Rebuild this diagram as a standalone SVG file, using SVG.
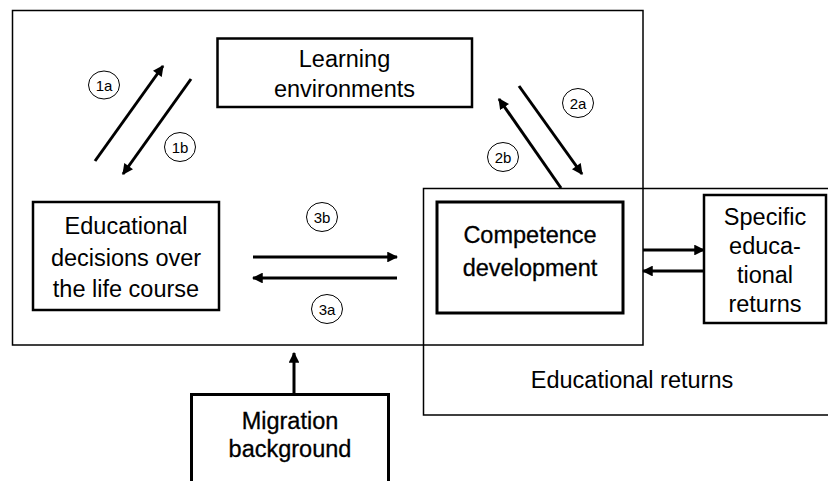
<svg xmlns="http://www.w3.org/2000/svg" width="828" height="481" viewBox="0 0 828 481">
<style>
.t{font-family:"Liberation Sans",Arial,sans-serif;font-size:23.5px;fill:#000;text-anchor:middle}
.b{stroke:#000;stroke-width:0.3}
.c{font-family:"Liberation Sans",Arial,sans-serif;font-size:15px;fill:#000;text-anchor:middle}
.box{fill:#fff;stroke:#000}
.thin{fill:none;stroke:#000;stroke-width:1.5}
.ar{stroke:#000;stroke-width:3;fill:none;marker-end:url(#h)}
.ci{fill:#fff;stroke:#000;stroke-width:1}
</style>
<defs>
<marker id="h" viewBox="0 0 10 10" refX="9" refY="5" markerWidth="3.8" markerHeight="3.6" orient="auto" markerUnits="strokeWidth">
<path d="M0,0 L10,5 L0,10 Z" fill="#000"/>
</marker>
</defs>
<g id="returns-area">
<path class="thin" d="M828,188.5 H423.5 V415 H828"/>
<text class="t" x="632" y="388">Educational returns</text>
</g>
<g id="outer">
<rect class="thin" x="12.5" y="10.5" width="630.5" height="334.5"/>
</g>
<g id="learning">
<rect class="box" x="217.5" y="38.5" width="254.5" height="68.5" stroke-width="2.5"/>
<text class="t" x="344.5" y="67">Learning</text>
<text class="t" x="344.5" y="97">environments</text>
</g>
<g id="decisions">
<rect class="box" x="33" y="202" width="186" height="108" stroke-width="2.5"/>
<text class="t" x="126" y="234">Educational</text>
<text class="t" x="126" y="266">decisions over</text>
<text class="t" x="126" y="297">the life course</text>
</g>
<g id="competence">
<rect class="box" x="437" y="202" width="186" height="111" stroke-width="3"/>
<text class="t b" x="530" y="243">Competence</text>
<text class="t b" x="530" y="276">development</text>
</g>
<g id="specific">
<rect class="box" x="704" y="195" width="122" height="128" stroke-width="2.5"/>
<text class="t" x="765" y="225">Specific</text>
<text class="t" x="765" y="254">educa-</text>
<text class="t" x="765" y="283">tional</text>
<text class="t" x="765" y="312">returns</text>
</g>
<g id="migration">
<path class="box" d="M191.5,481 V394.5 H388.5 V481" stroke-width="3"/>
<text class="t b" x="290" y="429">Migration</text>
<text class="t b" x="290" y="457">background</text>
</g>
<g id="connectors">
<line class="ar" x1="95" y1="161" x2="163" y2="66"/>
<line class="ar" x1="191" y1="79" x2="123" y2="174"/>
<line class="ar" x1="519" y1="86" x2="582" y2="174"/>
<line class="ar" x1="561" y1="188" x2="499" y2="99"/>
<line class="ar" x1="253" y1="257" x2="397" y2="257"/>
<line class="ar" x1="397" y1="278" x2="253" y2="278"/>
<line class="ar" x1="643" y1="250" x2="704" y2="250"/>
<line class="ar" x1="704" y1="271" x2="643" y2="271"/>
<line class="ar" x1="294" y1="394" x2="294" y2="353"/>
</g>
<g id="labels">
<ellipse class="ci" cx="104" cy="85" rx="15.5" ry="14"/><text class="c" x="104" y="90.5">1a</text>
<ellipse class="ci" cx="180" cy="147" rx="15.5" ry="14.5"/><text class="c" x="180" y="152.5">1b</text>
<ellipse class="ci" cx="578" cy="103" rx="15.5" ry="14.5"/><text class="c" x="578" y="108.5">2a</text>
<ellipse class="ci" cx="503" cy="157" rx="15.5" ry="14.5"/><text class="c" x="503" y="162.5">2b</text>
<ellipse class="ci" cx="322" cy="217" rx="15.5" ry="14.5"/><text class="c" x="322" y="222.5">3b</text>
<ellipse class="ci" cx="327" cy="309" rx="15.5" ry="14.5"/><text class="c" x="327" y="314.5">3a</text>
</g>
</svg>
